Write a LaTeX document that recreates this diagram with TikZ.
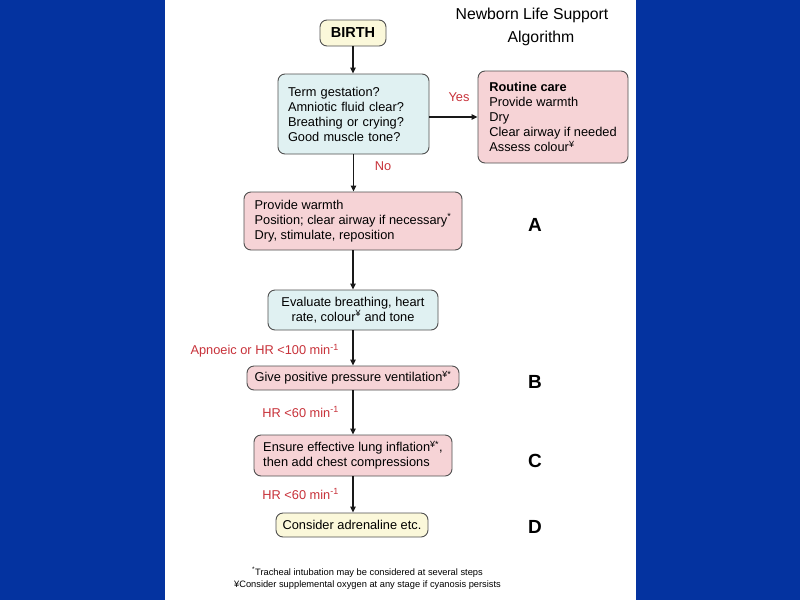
\documentclass[tikz,border=0pt]{standalone}
\usepackage{fontspec}
\setmainfont{Liberation Sans}
\usetikzlibrary{arrows.meta}
\definecolor{bgblue}{HTML}{0433A0}
\definecolor{pinkfill}{HTML}{F6D3D6}
\definecolor{bluefill}{HTML}{E0F1F2}
\definecolor{yellowfill}{HTML}{FBF8DA}
\definecolor{labred}{HTML}{C8323A}
\definecolor{edgegray}{HTML}{505050}
\tikzset{
  box/.style={draw=edgegray, line width=0.9pt, rounded corners=7pt, inner sep=0pt,
    font=\fontsize{12.8}{15}\selectfont},
  pinkbox/.style={box, fill=pinkfill},
  bluebox/.style={box, fill=bluefill},
  yelbox/.style={box, fill=yellowfill},
  redlab/.style={text=labred, font=\fontsize{12.8}{14}\selectfont, inner sep=0pt},
  steplab/.style={font=\bfseries\fontsize{19}{22}\selectfont, inner sep=0pt},
  flow/.style={draw=black!90, line width=1.2pt, -{Triangle[length=6pt,width=5.5pt]}},
}
\begin{document}
\begin{tikzpicture}[x=1pt,y=-1pt]
\useasboundingbox (0,0) rectangle (800,600);
\fill[bgblue] (0,0) rectangle (800,600);
\fill[white] (165,0) rectangle (636,600);

% title
\node[font=\fontsize{15.8}{23}\selectfont, align=center, inner sep=0pt] (title) at (532,27)
  {Newborn Life Support\\\hspace*{18pt}Algorithm};

% boxes
\node[yelbox, minimum width=66pt, minimum height=26pt, font=\bfseries\fontsize{14.5}{17}\selectfont]
  (birth) at (353,33) {BIRTH};
\node[bluebox, minimum width=151pt, minimum height=80pt, text width=131pt, align=left]
  (q) at (353.5,114) {Term gestation?\\Amniotic fluid clear?\\Breathing or crying?\\Good muscle tone?};
\node[pinkbox, minimum width=150pt, minimum height=92pt, align=left]
  (r) at (553,117) {\textbf{Routine care}\\Provide warmth\\Dry\\Clear airway if needed\\Assess colour\textsuperscript{¥}};
\node[pinkbox, minimum width=218pt, minimum height=58pt, align=left]
  (a) at (353,221) {Provide warmth\\Position; clear airway if necessary\textsuperscript{*}\\Dry, stimulate, reposition};
\node[bluebox, minimum width=170pt, minimum height=40pt, align=center]
  (ev) at (353,310) {Evaluate breathing, heart\\rate, colour\textsuperscript{¥} and tone};
\node[pinkbox, minimum width=212pt, minimum height=24pt]
  (b) at (353,378) {Give positive pressure ventilation\textsuperscript{¥*}};
\node[pinkbox, minimum width=198pt, minimum height=41pt, align=left]
  (c) at (353,455.5) {Ensure effective lung inflation\textsuperscript{¥*},\\then add chest compressions};
\node[yelbox, minimum width=152pt, minimum height=24pt]
  (d) at (352,525) {Consider adrenaline etc.};

% connectors
\draw[flow] (birth.south) -- (q.north -| birth.south);
\draw[flow] (q.east |- r.west) -- (r.west);
\draw[flow] (q.south) -- (a.north -| q.south);
\draw[flow] (a.south) -- (ev.north -| a.south);
\draw[flow] (ev.south) -- (b.north -| ev.south);
\draw[flow] (b.south) -- (c.north -| b.south);
\draw[flow] (c.south) -- (d.north -| c.south);

% labels
\node[redlab] (yes) at (459,97) {Yes};
\node[redlab] (no) at (383,166) {No};
\node[redlab, anchor=east] (apn) at (339,351) {Apnoeic or HR <100 min\textsuperscript{-1}};
\node[redlab, anchor=east] (hr1) at (339,412) {HR <60 min\textsuperscript{-1}};
\node[redlab, anchor=east] (hr2) at (339,494) {HR <60 min\textsuperscript{-1}};

\node[steplab] (la) at (535,225) {A};
\node[steplab] (lb) at (535,382) {B};
\node[steplab] (lc) at (535,461) {C};
\node[steplab] (ld) at (535,527) {D};

\node[font=\fontsize{9.3}{12}\selectfont, align=center, inner sep=0pt] (foot) at (367.5,578)
  {\textsuperscript{*}Tracheal intubation may be considered at several steps\\
   ¥Consider supplemental oxygen at any stage if cyanosis persists};
\end{tikzpicture}
\end{document}
